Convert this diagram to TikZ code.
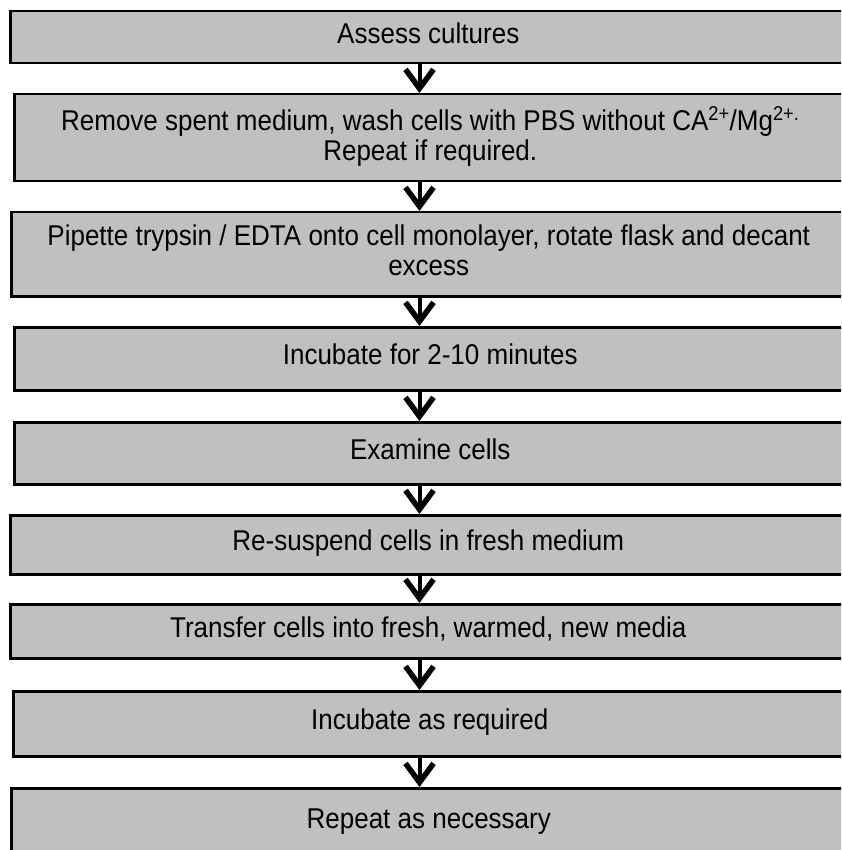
\documentclass[tikz,border=0pt]{standalone}
\usepackage{fontspec}
\usepackage{graphicx}
\setmainfont{Liberation Sans}
\usetikzlibrary{arrows.meta}
\definecolor{boxgray}{HTML}{C0C0C0}
\newcommand{\boxtext}[1]{\scalebox{1}[1.1]{\begin{tabular}{@{}c@{}}#1\end{tabular}}}
\tikzset{
  flowbox/.style={draw=black, fill=boxgray, line width=2.5pt, rectangle,
    inner sep=0pt, anchor=north west, align=center,
    font=\fontsize{26}{27}\selectfont},
  flowarrow/.style={line width=4pt,
    -{Straight Barb[length=19pt,width=28pt,line width=5.5pt,line join=miter]}}
}
\begin{document}
\begin{tikzpicture}[x=1pt,y=-1pt]
\useasboundingbox (0,0) rectangle (841,850);
\clip (0,0) rectangle (841,850);
\node[flowbox, minimum width=836pt, minimum height=52pt] (b1) at (9,10) {\boxtext{Assess cultures}};
\node[flowbox, minimum width=832pt, minimum height=87pt] (b2) at (13,93) {\boxtext{Remove spent medium, wash cells with PBS without CA\textsuperscript{2+}/Mg\textsuperscript{2+.}\\Repeat if required.}};
\node[flowbox, minimum width=835pt, minimum height=84pt] (b3) at (10,211) {\boxtext{Pipette trypsin / EDTA onto cell monolayer, rotate flask and decant\\excess}};
\node[flowbox, minimum width=832pt, minimum height=63pt] (b4) at (13,326) {\boxtext{Incubate for 2-10 minutes}};
\node[flowbox, minimum width=832pt, minimum height=62pt] (b5) at (13,421) {\boxtext{Examine cells}};
\node[flowbox, minimum width=836pt, minimum height=59pt] (b6) at (9,514) {\boxtext{Re-suspend cells in fresh medium}};
\node[flowbox, minimum width=836pt, minimum height=54pt] (b7) at (9,603) {\boxtext{Transfer cells into fresh, warmed, new media}};
\node[flowbox, minimum width=833pt, minimum height=65pt] (b8) at (12,690) {\boxtext{Incubate as required}};
\node[flowbox, minimum width=835pt, minimum height=68pt] (b9) at (10,787) {\boxtext{Repeat as necessary}};
\coordinate (ax) at (419.5,0);
\foreach \a/\b in {b1/b2,b2/b3,b3/b4,b4/b5,b5/b6,b6/b7,b7/b8,b8/b9}
  \draw[flowarrow] (\a.south -| ax) -- (\b.north -| ax);
\end{tikzpicture}
\end{document}
